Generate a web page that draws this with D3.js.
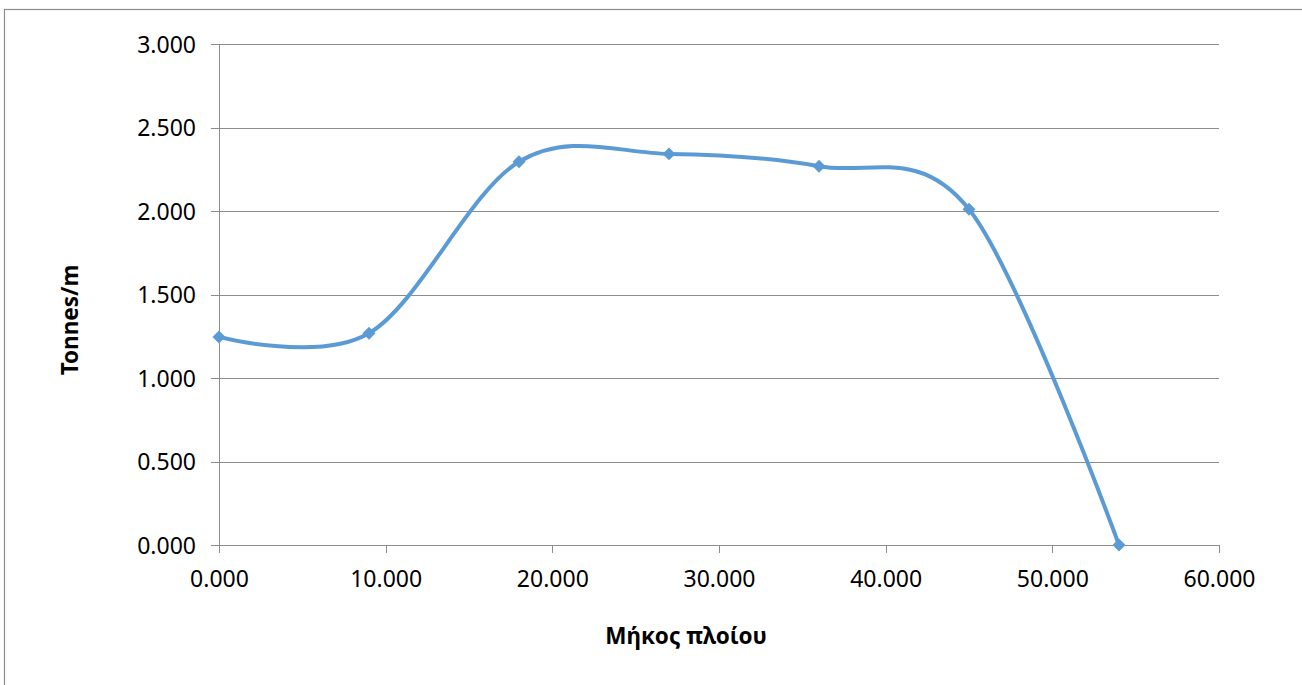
<!DOCTYPE html>
<html>
<head>
<meta charset="utf-8">
<script src="https://cdn.jsdelivr.net/npm/d3@7"></script>
<style>
  html, body { margin: 0; padding: 0; background: #fff; }
  svg { display: block; }
  text { font-family: "Noto Sans", "Open Sans", sans-serif; fill: #000; }
</style>
</head>
<body>
<svg id="chart" width="1302" height="685"></svg>
<script>
// Load distribution along the ship length
const positions = [0, 9, 18, 27, 36, 45, 54];
const loads = [1.246, 1.268, 2.295, 2.342, 2.268, 2.010, 0.000];
const xTicks = [0, 10, 20, 30, 40, 50, 60];
const yTicks = [0, 0.5, 1, 1.5, 2, 2.5, 3];
const xTitle = "Μήκος πλοίου";
const yTitle = "Tonnes/m";

const svg = d3.select("#chart");
const plotLeft = 219, plotRight = 1219, plotTop = 44, plotBottom = 545;
const grey = "#8c8c8c";
const blue = "#5B9BD5";
const fmt = d3.format(".3f");

// outer chart frame
svg.append("rect")
  .attr("x", 4.5).attr("y", 9.5)
  .attr("width", 1310).attr("height", 700)
  .attr("fill", "#fff").attr("stroke", grey).attr("stroke-width", 1.2);

const x = d3.scaleLinear().domain([0, 60]).range([plotLeft, plotRight]);
const y = d3.scaleLinear().domain([0, 3]).range([plotBottom, plotTop]);

// horizontal gridlines with left tick stubs
const yAxis = d3.axisLeft(y).tickValues(yTicks).tickFormat(fmt)
  .tickSizeInner(-(plotRight - plotLeft)).tickSizeOuter(0).tickPadding(0);
const gy = svg.append("g").attr("transform", `translate(${plotLeft},0)`).call(yAxis);
gy.select(".domain").remove();
gy.selectAll(".tick line")
  .attr("x1", -8).attr("x2", plotRight - plotLeft)
  .attr("stroke", grey).attr("stroke-width", 1)
  .attr("shape-rendering", "crispEdges");
gy.selectAll(".tick text")
  .attr("x", -23).attr("dy", "0.35em")
  .style("font-size", "23px").attr("text-anchor", "end");

// vertical axis line
svg.append("line")
  .attr("x1", plotLeft).attr("x2", plotLeft).attr("y1", plotTop).attr("y2", plotBottom + 8)
  .attr("stroke", grey).attr("stroke-width", 1).attr("shape-rendering", "crispEdges");

// bottom axis with downward ticks
const xAxis = d3.axisBottom(x).tickValues(xTicks).tickFormat(fmt)
  .tickSizeInner(8).tickSizeOuter(0).tickPadding(18);
const gx = svg.append("g").attr("transform", `translate(0,${plotBottom})`).call(xAxis);
gx.select(".domain").attr("stroke", grey).attr("stroke-width", 1)
  .attr("shape-rendering", "crispEdges");
gx.selectAll(".tick line").attr("stroke", grey).attr("stroke-width", 1)
  .attr("shape-rendering", "crispEdges");
gx.selectAll(".tick text").style("font-size", "23px");

// smoothed series line
const line = d3.line()
  .x((d, i) => x(positions[i]))
  .y(d => y(d))
  .curve(d3.curveCardinal.tension(0));
svg.append("path")
  .datum(loads)
  .attr("d", line)
  .attr("fill", "none")
  .attr("stroke", blue)
  .attr("stroke-width", 4)
  .attr("stroke-linejoin", "round");

// diamond markers
const diamond = d3.symbol().type(d3.symbolSquare).size(84);
svg.append("g").selectAll("path")
  .data(loads)
  .join("path")
  .attr("d", diamond)
  .attr("transform", (d, i) => `translate(${x(positions[i])},${y(d)}) rotate(45)`)
  .attr("fill", blue);

// axis titles
svg.append("text")
  .attr("x", 686).attr("y", 644)
  .attr("text-anchor", "middle")
  .style("font-size", "22.5px").style("font-weight", "bold")
  .text(xTitle);

svg.append("text")
  .attr("transform", "translate(78,320) rotate(-90)")
  .attr("text-anchor", "middle")
  .style("font-size", "22.5px").style("font-weight", "bold")
  .text(yTitle);
</script>
</body>
</html>
